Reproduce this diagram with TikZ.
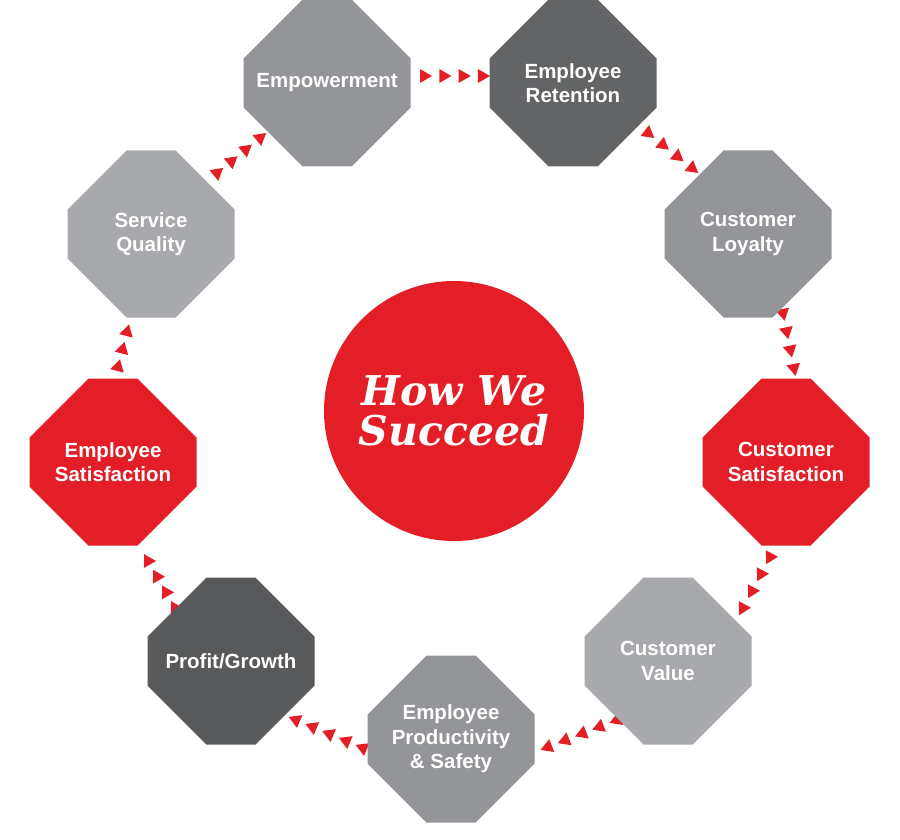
\documentclass[tikz,border=0pt]{standalone}
\usepackage{fontspec}
\setmainfont{Liberation Sans}
\newfontfamily\hwfont{DejaVu Serif}
\usetikzlibrary{decorations.markings}
\definecolor{hwred}{HTML}{E31E26}
\definecolor{gmid}{HTML}{939598}
\definecolor{glight}{HTML}{A7A9AC}
\definecolor{gdark}{HTML}{636466}
\definecolor{gdarker}{HTML}{58595B}
\begin{document}
\begin{tikzpicture}[x=1pt,y=-1pt,
  octbox/.style={minimum width=167pt, minimum height=167pt, inner sep=0pt,
    align=center, text=white,
    font=\fontsize{20.5}{24.5}\selectfont\bfseries,
    path picture={\fill[#1]
      ([xshift=59pt]path picture bounding box.north west) --
      ([xshift=-59pt]path picture bounding box.north east) --
      ([yshift=-59pt]path picture bounding box.north east) --
      ([yshift=59pt]path picture bounding box.south east) --
      ([xshift=-59pt]path picture bounding box.south east) --
      ([xshift=59pt]path picture bounding box.south west) --
      ([yshift=59pt]path picture bounding box.south west) --
      ([yshift=-59pt]path picture bounding box.north west) -- cycle;}},
  rowarrow/.style={decoration={markings,
    mark=between positions 0 and 1 step #1 with
      {\fill[hwred] (0:8pt) -- (120:8pt) -- (240:8pt) -- cycle;}},
    decorate}
]
\useasboundingbox (0,0) rectangle (900,840);

% connector end points
\coordinate (g1s) at (424,76);  \coordinate (g1e) at (482,76);
\coordinate (g2s) at (648,133); \coordinate (g2e) at (692,168);
\coordinate (g3s) at (783,313); \coordinate (g3e) at (794,368);
\coordinate (g4s) at (770,557); \coordinate (g4e) at (743,608);
\coordinate (g5s) at (617,720); \coordinate (g5e) at (548,747);
\coordinate (g6s) at (363,748); \coordinate (g6e) at (296,720);
\coordinate (g7s) at (175,608); \coordinate (g7e) at (148,561);
\coordinate (g8s) at (118,367); \coordinate (g8e) at (127,332);
\coordinate (g9s) at (217,173); \coordinate (g9e) at (260,138);

% connectors (drawn beneath the octagons)
\path[rowarrow=0.3333] (g1s) -- (g1e);
\path[rowarrow=0.3333] (g2s) -- (g2e);
\path[rowarrow=0.3333] (g3s) -- (g3e);
\path[rowarrow=0.3333] (g4s) -- (g4e);
\path[rowarrow=0.25] (g5s) -- (g5e);
\path[rowarrow=0.25] (g6s) -- (g6e);
\path[rowarrow=0.3333] (g7s) -- (g7e);
\path[rowarrow=0.5] (g8s) -- (g8e);
\path[rowarrow=0.3333] (g9s) -- (g9e);

% octagons
\node[octbox=gmid] (emp) at (327,83) {Empowerment};
\node[octbox=gdark] (ret) at (573,83) {Employee\\Retention};
\node[octbox=gmid] (loy) at (748,234) {Customer\\Loyalty};
\node[octbox=hwred] (csat) at (786,462) {Customer\\Satisfaction};
\node[octbox=glight] (cval) at (668,661) {Customer\\Value};
\node[octbox=gmid] (prod) at (451,739) {Employee\\Productivity\\\& Safety};
\node[octbox=gdarker] (prof) at (231,661) {Profit/Growth};
\node[octbox=hwred] (esat) at (113,462) {Employee\\Satisfaction};
\node[octbox=glight] (serv) at (151,234) {Service\\Quality};

% centre
\node[circle, fill=hwred, minimum size=260pt, inner sep=0pt, text=white,
  align=center, font=\hwfont\bfseries\itshape\fontsize{41}{40}\selectfont]
  (core) at (454,411) {How We\\Succeed};
\end{tikzpicture}
\end{document}
